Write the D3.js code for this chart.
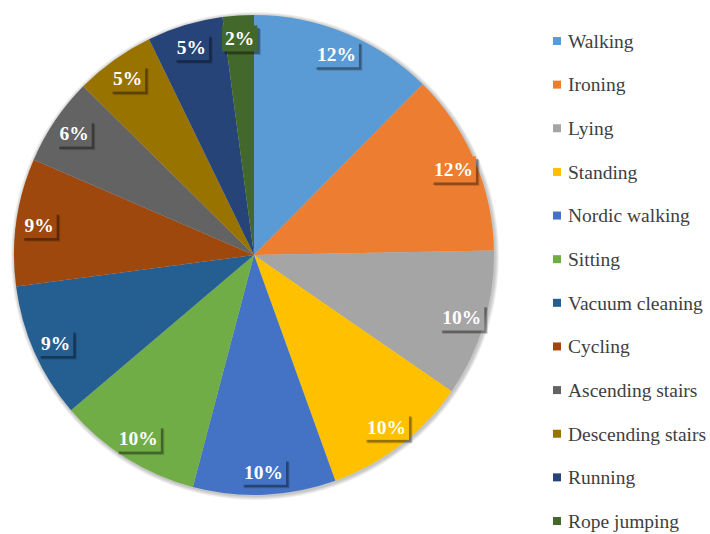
<!DOCTYPE html>
<html>
<head>
<meta charset="utf-8">
<script src="https://cdn.jsdelivr.net/npm/d3@7"></script>
<style>
  body { margin: 0; background: #fff; }
</style>
</head>
<body>
<div id="chart"></div>
<script>
const activities = ["Walking", "Ironing", "Lying", "Standing", "Nordic walking", "Sitting",
  "Vacuum cleaning", "Cycling", "Ascending stairs", "Descending stairs", "Running", "Rope jumping"];
const shares = [12.4, 12.3, 9.9, 9.9, 9.6, 9.7, 9.1, 8.6, 5.9, 5.4, 5.1, 2.1];
const colors = ["#5B9BD5", "#ED7D31", "#A5A5A5", "#FFC000", "#4472C4", "#70AD47",
  "#255E91", "#9E480E", "#636363", "#997300", "#264478", "#43682B"];

const width = 710, height = 534;
const cx = 254, cy = 255, radius = 240, labelR = 217;
const serif = '"Liberation Serif"';
const labelSize = 19.5;

const svg = d3.select("#chart").append("svg")
  .attr("width", width)
  .attr("height", height);

const color = d3.scaleOrdinal().domain(activities).range(colors);
const total = d3.sum(shares);

const pie = d3.pie().sort(null).value(d => d.value);
const arcs = pie(activities.map((a, i) => ({ name: a, value: shares[i] })));

const arc = d3.arc().innerRadius(0).outerRadius(radius);
const labelArc = d3.arc().innerRadius(labelR).outerRadius(labelR);

const g = svg.append("g").attr("transform", `translate(${cx},${cy})`);

// soft shadow round the pie, faked with a few faint rings
g.selectAll("circle.shadow")
  .data([4, 3, 2, 1])
  .enter().append("circle")
  .attr("class", "shadow")
  .attr("cx", 1).attr("cy", 1)
  .attr("r", d => radius + d)
  .attr("fill", "#000")
  .attr("fill-opacity", 0.06);

g.append("g")
  .selectAll("path")
  .data(arcs)
  .enter().append("path")
  .attr("d", arc)
  .attr("fill", d => color(d.data.name));

const fmt = v => Math.round(v / total * 100) + "%";
// bold serif label width: digits 0.5em, percent sign 1em
const textW = s => (s.length - 1) * 0.5 * labelSize + 1.0 * labelSize;

const labels = g.selectAll("g.label")
  .data(arcs)
  .enter().append("g")
  .attr("class", "label")
  .attr("transform", d => `translate(${labelArc.centroid(d)})`);

[[3.5, 0.15], [2.5, 0.3]].forEach(([off, op]) => {
  labels.append("rect")
    .attr("x", d => -textW(fmt(d.data.value)) / 2 - 3 + off)
    .attr("y", -13 + off)
    .attr("width", d => textW(fmt(d.data.value)) + 6)
    .attr("height", 26)
    .attr("fill", "#000")
    .attr("fill-opacity", op);
});

labels.append("rect")
  .attr("x", d => -textW(fmt(d.data.value)) / 2 - 3)
  .attr("y", -13)
  .attr("width", d => textW(fmt(d.data.value)) + 6)
  .attr("height", 26)
  .attr("fill", d => color(d.data.name));

labels.append("text")
  .attr("text-anchor", "middle")
  .attr("dy", "0.35em")
  .attr("fill", "#fff")
  .style("font-family", serif)
  .style("font-weight", "bold")
  .style("font-size", labelSize + "px")
  .text(d => fmt(d.data.value));

// legend
const ly = d3.scalePoint().domain(activities).range([41, 521]);
const items = svg.append("g").selectAll("g")
  .data(activities)
  .enter().append("g")
  .attr("transform", d => `translate(553,${ly(d)})`);

items.append("rect")
  .attr("x", 0).attr("y", -4)
  .attr("width", 8).attr("height", 8)
  .attr("fill", d => color(d));

items.append("text")
  .attr("x", 15)
  .attr("dy", "0.35em")
  .attr("fill", "#404040")
  .style("font-family", serif)
  .style("font-size", "19.5px")
  .text(d => d);
</script>
</body>
</html>
